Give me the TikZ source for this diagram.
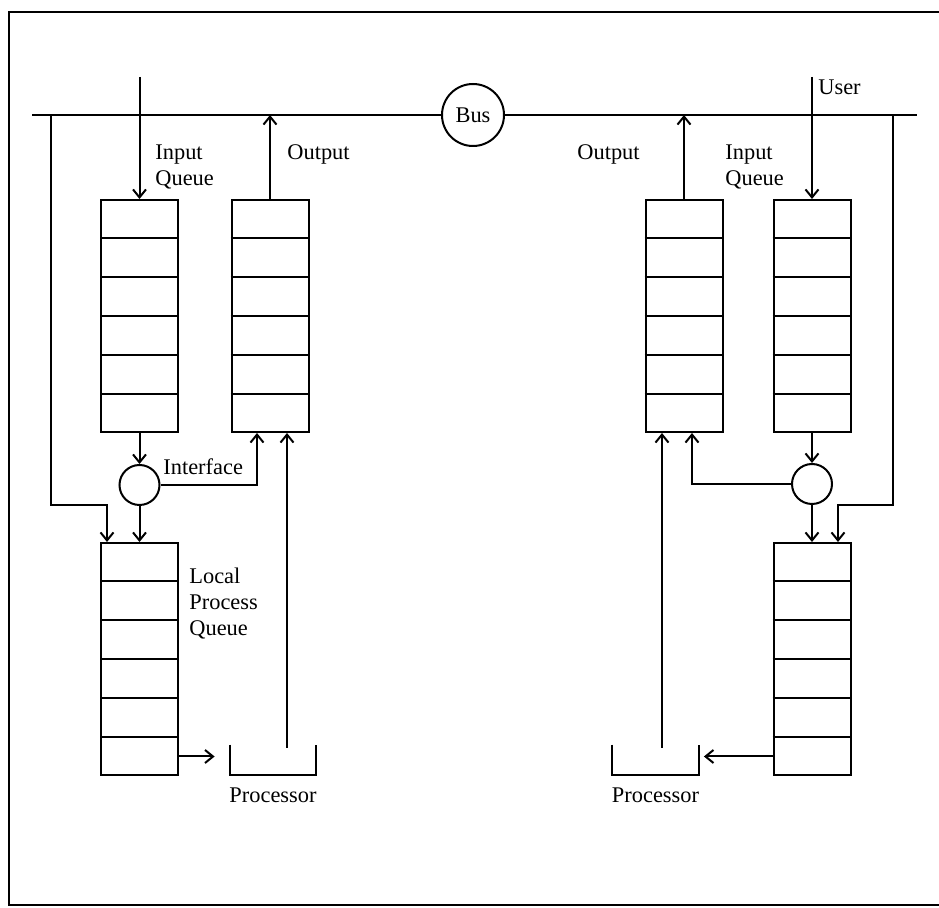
\documentclass[tikz,border=0pt]{standalone}
\usepackage{fontspec}
\setmainfont{Liberation Serif}
\usetikzlibrary{positioning, arrows.meta, calc}
\newcommand{\lblfont}{\fontsize{11.2}{13}\selectfont}
\tikzset{
  queuebox/.style={
    rectangle,
    draw,
    line width=1pt,
    minimum width=38.5pt,
    minimum height=116pt,
    inner sep=0pt
  },
  joinnode/.style={
    circle,
    draw,
    line width=1pt,
    minimum size=20pt,
    inner sep=0pt
  },
  busnode/.style={
    circle,
    draw,
    line width=1pt,
    minimum size=31pt,
    inner sep=0pt,
    font=\lblfont
  },
  procnode/.style={
    rectangle,
    minimum width=43pt,
    minimum height=15pt,
    inner sep=0pt
  },
  flowline/.style={
    line width=1pt
  },
  flowarrow/.style={
    line width=1pt,
    -{Straight Barb[length=4pt,width=6.5pt]}
  },
  textlabel/.style={
    font=\lblfont,
    inner sep=0pt,
    align=left
  }
}

\begin{document}
\begin{tikzpicture}[x=0.5pt, y=-0.5pt]
  \useasboundingbox (0,0) rectangle (939,908);
  % frame
  \draw[flowline] (939,12) -- (9,12) -- (9,905) -- (939,905);

  % bus
  \node[busnode] (bus) at (473,115) {Bus};
  \coordinate (busW) at (32,115);
  \coordinate (busE) at (917,115);
  \draw[flowline] (busW) -- (bus) -- (busE);

  % queues
  \node[queuebox] (inqL) at (139.5,316) {};
  \node[queuebox] (outqL) at (270,316) {};
  \node[queuebox] (locqL) at (139.5,659) {};
  \node[queuebox] (outqR) at (684,316) {};
  \node[queuebox] (inqR) at (812,316) {};
  \node[queuebox] (locqR) at (812,659) {};
  \foreach \q in {inqL,outqL,locqL,outqR,inqR,locqR}
    \foreach \k in {1,...,5}
      \draw[flowline] ($(\q.north west)!\k/6!(\q.south west)$)
        -- ($(\q.north east)!\k/6!(\q.south east)$);

  % interfaces
  \node[joinnode] (ifL) at (139.5,485) {};
  \node[joinnode] (ifR) at (812,484) {};

  % processors
  \node[procnode] (procL) at (273,760) {};
  \node[procnode] (procR) at (655.5,760) {};
  \foreach \p in {procL,procR}
    \draw[flowline] (\p.north west) -- (\p.south west)
      -- (\p.south east) -- (\p.north east);
  \node[textlabel, below=6pt of procL] (proclblL) {Processor};
  \node[textlabel, below=6pt of procR] (proclblR) {Processor};

  % labels
  \node[textlabel, anchor=west] (inlblL) at (155,167) {Input\\Queue};
  \node[textlabel, anchor=west] (outlblL) at (287,154) {Output};
  \node[textlabel, anchor=west] (outlblR) at (577,154) {Output};
  \node[textlabel, anchor=west] (inlblR) at (725,167) {Input\\Queue};
  \node[textlabel, anchor=west] (userlbl) at (818,87) {User};
  \node[textlabel, anchor=west] (iflbl) at (163,467) {Interface};
  \node[textlabel, anchor=west] (loclbl) at (189,604) {Local\\Process\\Queue};

  % left node
  \coordinate (inL) at (139.5,77);
  \draw[flowarrow] (inL) -- (inqL.north);
  \draw[flowarrow] (outqL.north) -- (outqL.north |- bus);
  \draw[flowarrow] (inqL.south) -- (ifL.north);
  \draw[flowarrow] (ifL.south) -- (locqL.north);
  \draw[flowarrow] (ifL.east) -| ($(outqL.south)+(-13,0)$);
  \coordinate (tapL) at (51,115);
  \coordinate (tapLb) at (51,505);
  \draw[flowarrow] (tapL) -- (tapLb) -| ($(locqL.north)+(-32.5,0)$);
  \coordinate (rowL) at ($(locqL.south east)!0.5/6!(locqL.north east)$);
  \draw[flowarrow, shorten >=7.5pt] (rowL) -- (rowL -| procL.west);
  \coordinate (fbL) at (287,748);
  \draw[flowarrow] (fbL) -- (fbL |- outqL.south);

  % right node
  \coordinate (user) at (812,77);
  \draw[flowarrow] (user) -- (inqR.north);
  \draw[flowarrow] (outqR.north) -- (outqR.north |- bus);
  \draw[flowarrow] (inqR.south) -- (ifR.north);
  \draw[flowarrow] (ifR.south) -- (locqR.north);
  \draw[flowarrow] (ifR.west) -| ($(outqR.south)+(8,0)$);
  \coordinate (tapR) at (893,115);
  \coordinate (tapRb) at (893,505);
  \draw[flowarrow] (tapR) -- (tapRb) -| ($(locqR.north)+(26,0)$);
  \coordinate (rowR) at ($(locqR.south west)!0.5/6!(locqR.north west)$);
  \draw[flowarrow, shorten >=2.5pt] (rowR) -- (rowR -| procR.east);
  \coordinate (fbR) at (662,748);
  \draw[flowarrow] (fbR) -- (fbR |- outqR.south);
\end{tikzpicture}
\end{document}
